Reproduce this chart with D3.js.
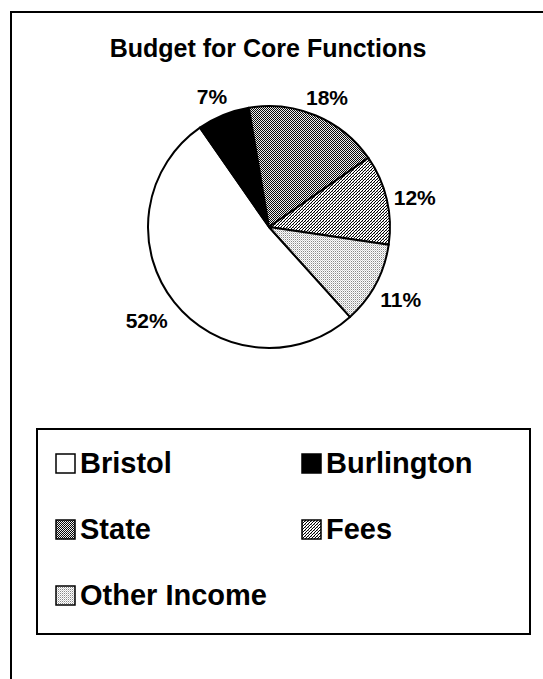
<!DOCTYPE html>
<html>
<head>
<meta charset="utf-8">
<script src="https://cdn.jsdelivr.net/npm/d3@7"></script>
<style>
  body { margin: 0; background: #fff; }
  text { font-family: Arial, "Liberation Sans", sans-serif; font-weight: bold; fill: #000; }
</style>
</head>
<body>
<div id="chart"></div>
<script>
const categories = ["Bristol", "Burlington", "State", "Fees", "Other Income"];
const shares = [52, 7, 18, 12, 11];
const labels = ["52%", "7%", "18%", "12%", "11%"];
const fills = ["white", "black", "url(#pState)", "url(#pFees)", "url(#pOther)"];

function main() {
  const width = 543;
  const height = 679;
  const radius = 121;
  const cx = 269;
  const cy = 227;

  const svg = d3
    .select("#chart")
    .append("svg")
    .attr("width", width)
    .attr("height", height);

  // fill patterns like the old excel hatches
  const defs = svg.append("defs");
  const pState = defs.append("pattern").attr("id", "pState")
    .attr("patternUnits", "userSpaceOnUse").attr("width", 2).attr("height", 2);
  pState.append("rect").attr("width", 2).attr("height", 2).attr("fill", "#eee");
  pState.append("rect").attr("width", 1).attr("height", 1).attr("fill", "#000");
  pState.append("rect").attr("x", 1).attr("y", 1).attr("width", 1).attr("height", 1).attr("fill", "#111");

  const pFees = defs.append("pattern").attr("id", "pFees")
    .attr("patternUnits", "userSpaceOnUse").attr("width", 3).attr("height", 3);
  pFees.append("rect").attr("width", 3).attr("height", 3).attr("fill", "#fff");
  [0, 1, 2].forEach((i) => {
    pFees.append("rect").attr("x", i).attr("y", 2 - i).attr("width", 1).attr("height", 1).attr("fill", "#000");
  });
  pFees.append("rect").attr("x", 0).attr("y", 0).attr("width", 1).attr("height", 1).attr("fill", "#999");

  const pOther = defs.append("pattern").attr("id", "pOther")
    .attr("patternUnits", "userSpaceOnUse").attr("width", 2).attr("height", 2);
  pOther.append("rect").attr("width", 2).attr("height", 2).attr("fill", "#fff");
  pOther.append("rect").attr("width", 1).attr("height", 1).attr("fill", "#888");
  pOther.append("rect").attr("x", 1).attr("y", 1).attr("width", 1).attr("height", 1).attr("fill", "#ccc");

  // outer frame (runs off the page at right and bottom)
  svg.append("path")
    .attr("d", `M11,${height + 5} L11,12 L${width + 5},12`)
    .attr("fill", "none")
    .attr("stroke", "#000")
    .attr("stroke-width", 2);

  svg.append("text")
    .attr("x", 268)
    .attr("y", 57)
    .attr("text-anchor", "middle")
    .style("font-size", "25px")
    .text("Budget for Core Functions");

  const start = (138 * Math.PI) / 180;
  const pie = d3.pie().value((d) => d).sort(null)
    .startAngle(start).endAngle(start + 2 * Math.PI);
  const arc = d3.arc().innerRadius(0).outerRadius(radius);
  const arcs = pie(shares);

  const g = svg.append("g").attr("transform", `translate(${cx}, ${cy})`);
  g.selectAll("path")
    .data(arcs)
    .enter()
    .append("path")
    .attr("d", arc)
    .attr("fill", (d, i) => fills[i])
    .attr("stroke", "#000")
    .attr("stroke-width", 2)
    .attr("stroke-linejoin", "round");

  // labels sit outside the rim, pushed out by their own box size
  const gap = 16;
  const lbl = g.selectAll(".lbl")
    .data(arcs)
    .enter()
    .append("text")
    .attr("class", "lbl")
    .attr("text-anchor", "middle")
    .attr("dy", "0.35em")
    .style("font-size", "21px")
    .text((d, i) => labels[i]);

  lbl.each(function (d) {
    const a = (d.startAngle + d.endAngle) / 2;
    const w = this.getBBox().width;
    const k = Math.sin(a) < 0 ? 0.45 : 0.3;
    const x = (radius + gap + w * k) * Math.sin(a);
    const y = -(radius + gap + 8) * Math.cos(a) + 4;
    d3.select(this).attr("x", x).attr("y", y);
  });

  // legend
  const lx = 37, ly = 429, lw = 493, lh = 205;
  svg.append("rect")
    .attr("x", lx).attr("y", ly).attr("width", lw).attr("height", lh)
    .attr("fill", "#fff").attr("stroke", "#000").attr("stroke-width", 2);

  const col = d3.scaleOrdinal().domain([0, 1]).range([56, 302]);
  const row = d3.scalePoint().domain([0, 1, 2]).range([473, 605]);

  const items = svg.selectAll(".legend")
    .data(categories)
    .enter()
    .append("g")
    .attr("class", "legend")
    .attr("transform", (d, i) => `translate(${col(i % 2)}, ${row(Math.floor(i / 2))})`);

  items.append("rect")
    .attr("x", 0).attr("y", -19)
    .attr("width", 19).attr("height", 19)
    .attr("fill", (d, i) => fills[i])
    .attr("stroke", "#000").attr("stroke-width", 1.5);

  items.append("text")
    .attr("x", 24)
    .attr("y", 0)
    .style("font-size", "29px")
    .text((d) => d);
}
main();
</script>
</body>
</html>
